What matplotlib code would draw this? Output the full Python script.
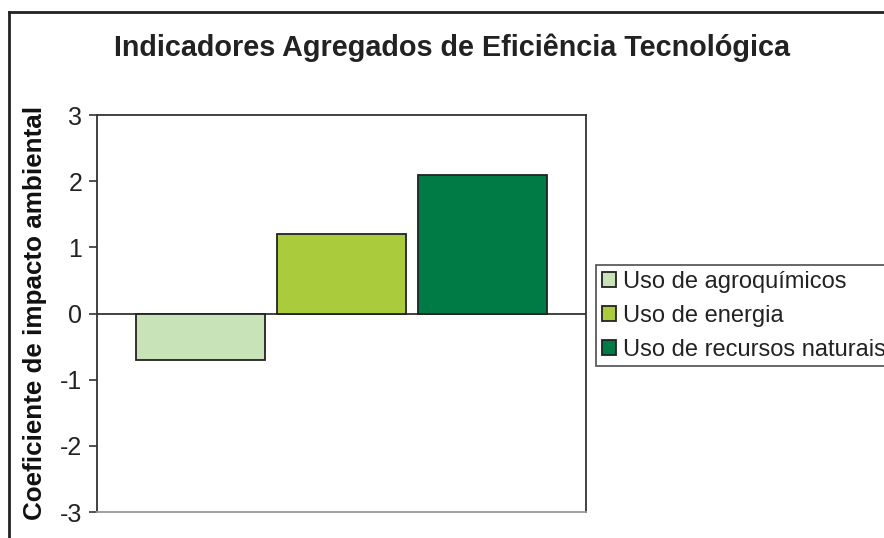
import matplotlib
matplotlib.use("Agg")
import matplotlib.pyplot as plt
from matplotlib.lines import Line2D

plt.rcParams['font.family'] = ['Liberation Sans', 'DejaVu Sans']

title = "Indicadores Agregados de Eficiência Tecnológica"
ylabel = "Coeficiente de impacto ambiental"
series = ["Uso de agroquímicos", "Uso de energia", "Uso de recursos naturais"]
values = [-0.7, 1.2, 2.1]
colors = ["#c9e3b8", "#aacb3c", "#007b45"]
yticks = [-3, -2, -1, 0, 1, 2, 3]

fig = plt.figure(figsize=(8.84, 5.38), dpi=100)
ax = fig.add_axes([0.1097, 0.0483, 0.5532, 0.7379])

offsets = [-0.288, 0.0, 0.288]
width = 0.264
for off, v, c, lab in zip(offsets, values, colors, series):
    ax.bar(off, v, width=width, color=c, edgecolor="#222222", linewidth=1.3, label=lab, zorder=3)

ax.axhline(0, color="#333333", linewidth=1.3, zorder=2)
ax.set_xlim(-0.5, 0.5)
ax.set_ylim(-3, 3)
ax.set_yticks(yticks)
ax.set_yticklabels([str(t) for t in yticks], fontsize=18, color="#222222")
ax.set_xticks([])
ax.tick_params(axis='y', direction='out', length=5.5, width=1.2, color="#333333", pad=5)
for s in ['left', 'top', 'right']:
    ax.spines[s].set_color("#333333")
    ax.spines[s].set_linewidth(1.3)
ax.spines['bottom'].set_color("#999999")
ax.spines['bottom'].set_linewidth(1.3)

fig.text(0.5113, 0.911, title, fontsize=20.7, fontweight='bold', ha='center', va='center', color="#222222")
fig.text(0.040, 0.419, ylabel, fontsize=18.7, fontweight='bold', rotation=90, ha='center', va='center', color="#111111")

leg = ax.legend(loc='upper left', bbox_to_anchor=(0.674, 0.5074), bbox_transform=fig.transFigure,
                fontsize=17, frameon=True, fancybox=False, handlelength=0.6, handleheight=0.6,
                handletextpad=0.3, borderpad=0.25, labelspacing=0.5, borderaxespad=0)
leg.get_frame().set_edgecolor("#333333")
leg.get_frame().set_linewidth(1.3)
for t in leg.get_texts():
    t.set_color("#222222")

# outer frame (top and left)
fig.add_artist(Line2D([9/884, 9/884], [0, 1 - 12/538], transform=fig.transFigure, color="#222222", linewidth=2))
fig.add_artist(Line2D([9/884, 1], [1 - 12/538, 1 - 12/538], transform=fig.transFigure, color="#222222", linewidth=2))

fig.savefig("out.png", dpi=100)
